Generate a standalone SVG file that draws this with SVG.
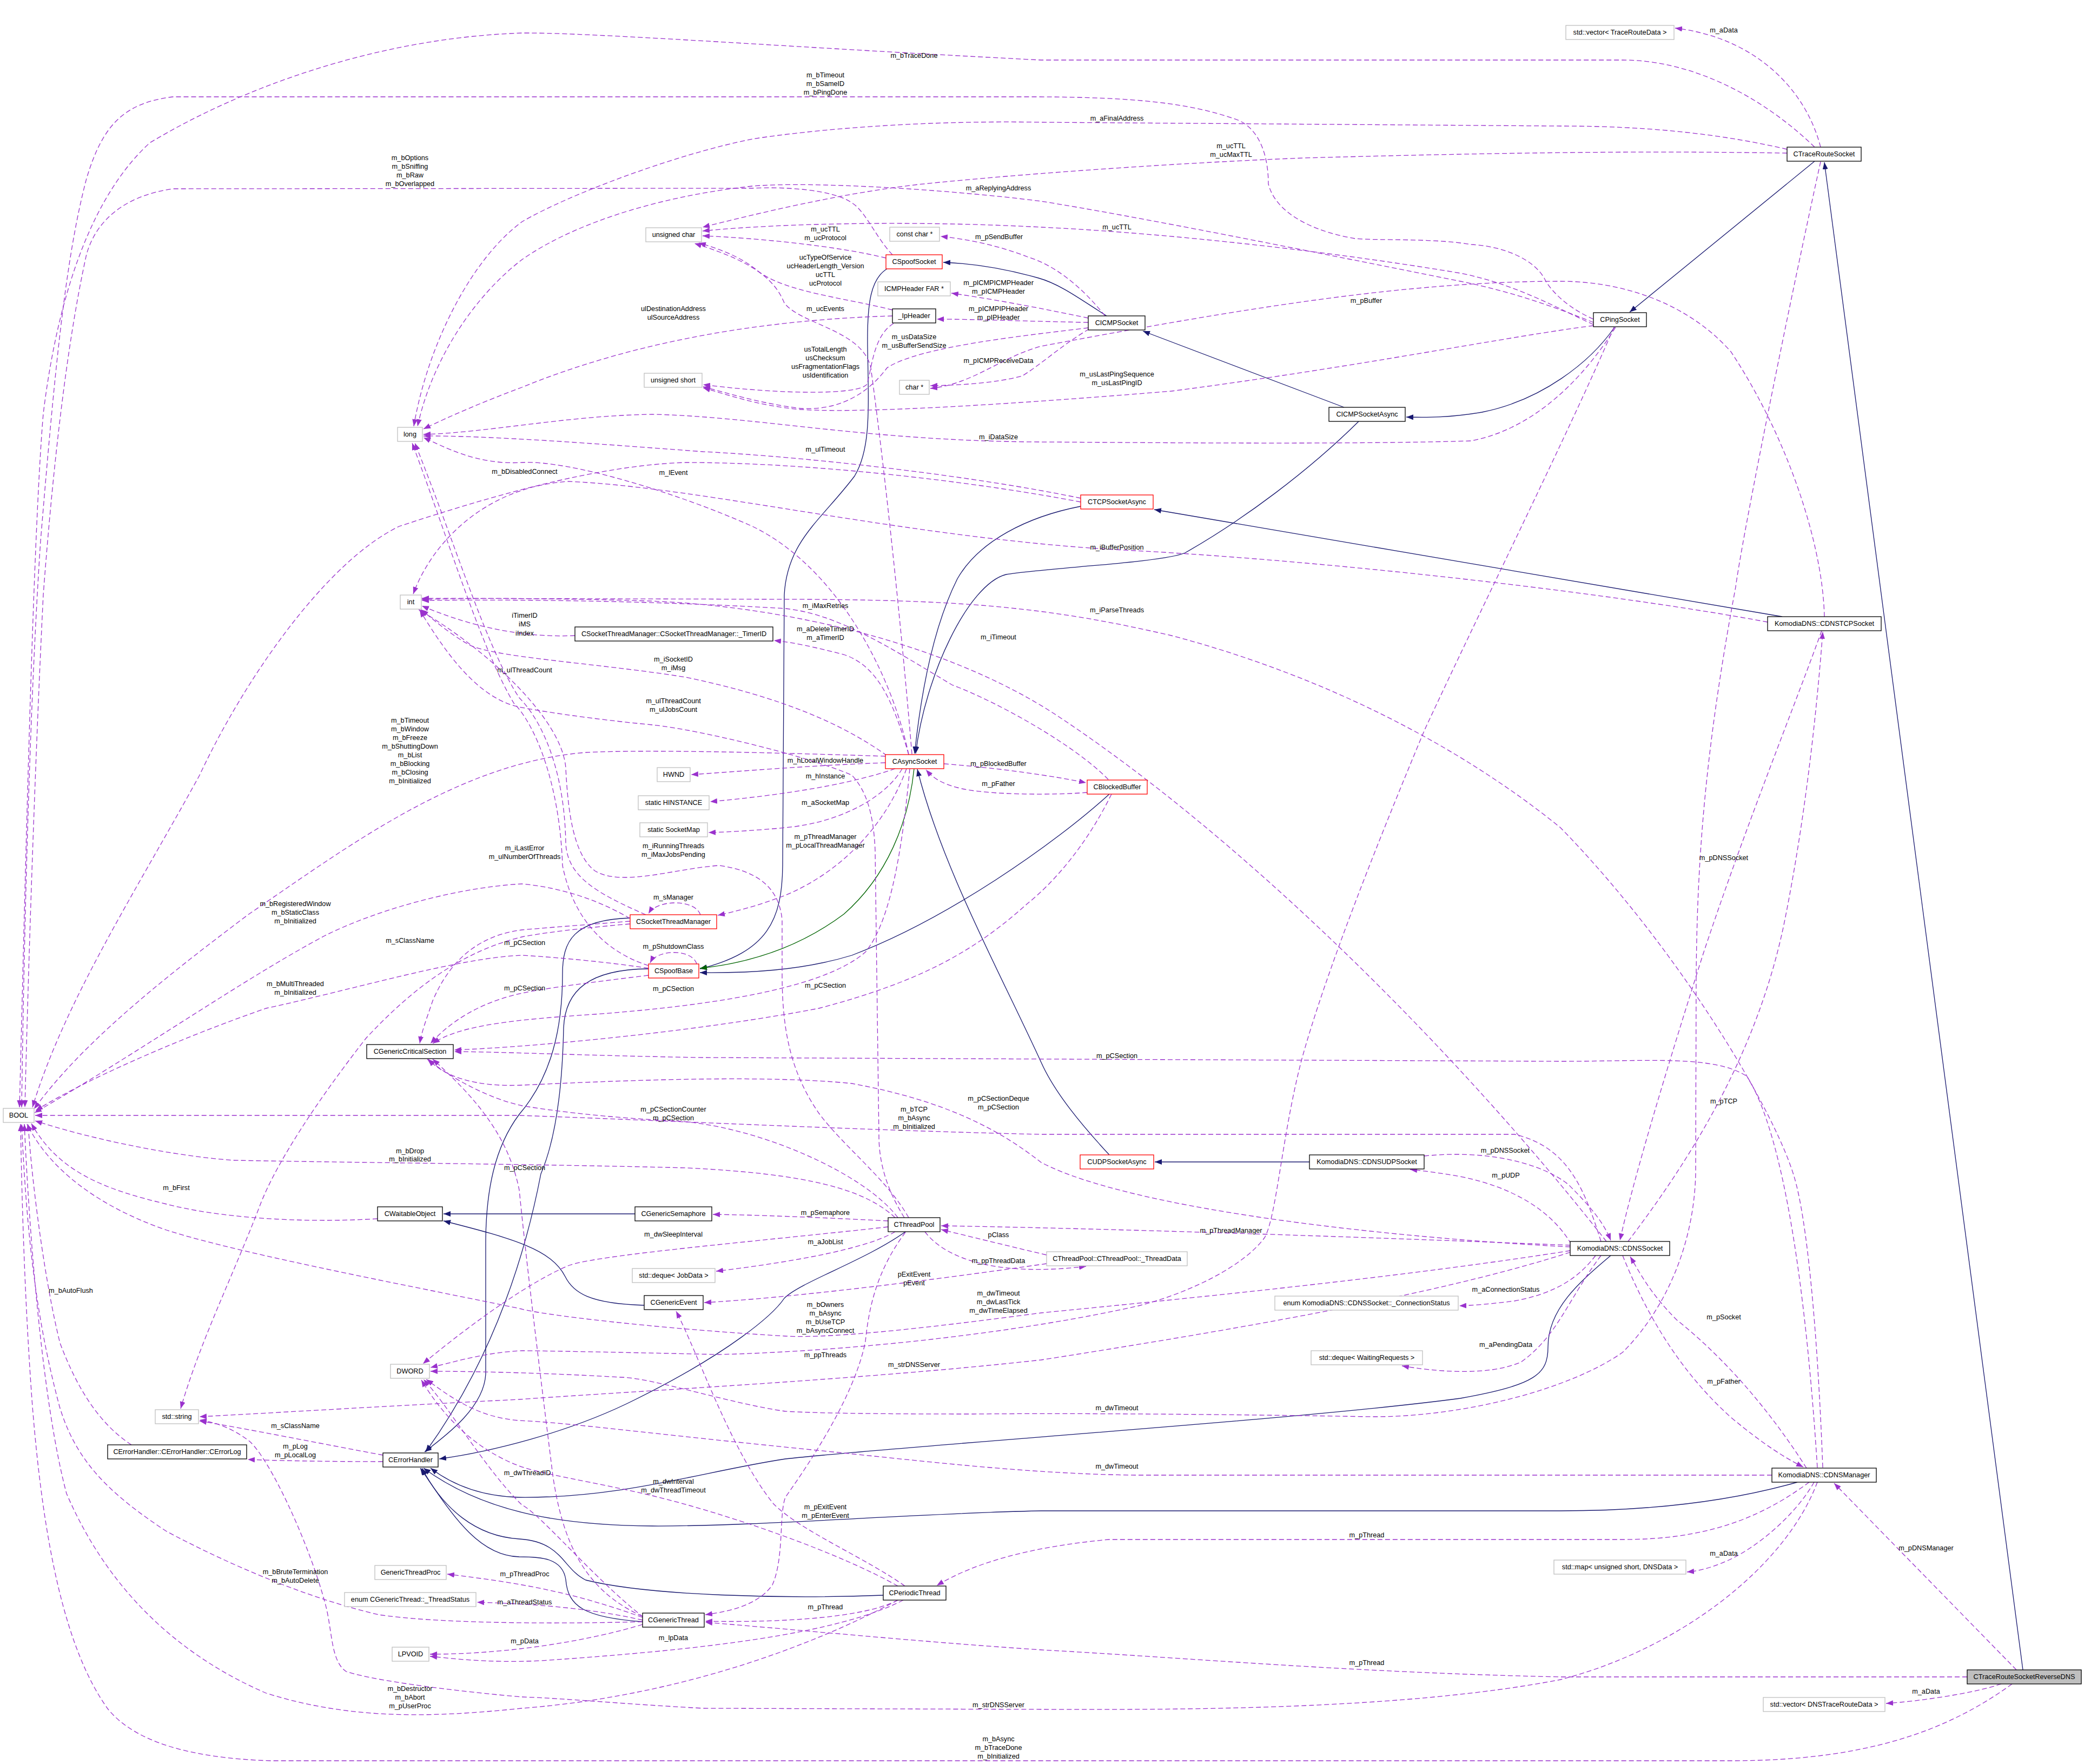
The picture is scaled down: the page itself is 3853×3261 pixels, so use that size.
<svg xmlns="http://www.w3.org/2000/svg" width="3853" height="3261" viewBox="0 0 3853 3261">
<defs>
<style>
text{font-family:"Liberation Sans",Arial,Helvetica,sans-serif;font-size:12.7px;text-anchor:middle;fill:#000}
.n rect{fill:#fff;stroke:#000;stroke-width:1.3}
.g rect{stroke:#bfbfbf}
.r rect{stroke:#ff0000}
.f rect{fill:#bfbfbf}
.e path{fill:none;stroke:#9a32cd;stroke-width:1.3;stroke-dasharray:9,5;marker-end:url(#ap)}
.i path{fill:none;stroke:#191970;stroke-width:1.3;marker-end:url(#an)}
.p path{fill:none;stroke:#006400;stroke-width:1.3;marker-end:url(#ag)}
</style>
<marker id="ap" markerUnits="userSpaceOnUse" markerWidth="14" markerHeight="10" refX="13" refY="5" orient="auto"><path d="M0,0 L13,5 L0,10 z" fill="#9a32cd"/></marker>
<marker id="an" markerUnits="userSpaceOnUse" markerWidth="14" markerHeight="10" refX="13" refY="5" orient="auto"><path d="M0,0 L13,5 L0,10 z" fill="#191970"/></marker>
<marker id="ag" markerUnits="userSpaceOnUse" markerWidth="14" markerHeight="10" refX="13" refY="5" orient="auto"><path d="M0,0 L13,5 L0,10 z" fill="#006400"/></marker>
</defs>
<rect width="3853" height="3261" fill="#fff"/>

<g id="connectors">
<g class="i">
<path d="M2046,584 C2000,555 1960,525 1920,514 C1860,497 1800,487 1744,485"/>
<path d="M2485,753 L2113,612"/>
<path d="M2985,605 C2940,670 2850,740 2740,762 C2680,772 2640,772 2600,771"/>
<path d="M3355,298 L3013,577"/>
<path d="M3740,3087 L3373,300"/>
<path d="M1640,497 C1610,515 1603,560 1604,640 C1606,760 1610,830 1580,880 C1520,960 1455,1000 1450,1100 L1447,1600 C1446,1700 1420,1760 1294,1791"/>
<path d="M2512,779 C2420,870 2300,960 2191,1022 C2150,1040 1930,1050 1860,1062 C1790,1080 1710,1250 1693,1393"/>
<path d="M1998,936 C1900,955 1810,1000 1770,1070 C1730,1150 1705,1260 1691,1393"/>
<path d="M2051,2135 C2000,2080 1950,2020 1925,1964 C1850,1800 1740,1600 1696,1422"/>
<path d="M3295,1140 L2134,942"/>
<path d="M2421,2148 L2135,2148"/>
<path d="M2051,1468 C1950,1560 1750,1700 1575,1766 C1480,1795 1380,1799 1294,1798"/>
<path d="M1165,1697 C1060,1700 1040,1740 1040,1800 C1040,1900 1020,1990 960,2060 C915,2120 898,2200 898,2300 L898,2540 C895,2600 830,2650 785,2684"/>
<path d="M1199,1791 C1090,1792 1045,1830 1042,1900 C1040,2000 1030,2100 1000,2170 C975,2300 920,2500 787,2684"/>
<path d="M1674,2277 C1600,2330 1480,2370 1450,2400 C1430,2430 1350,2500 1175,2587 C1050,2650 900,2685 812,2697"/>
<path d="M2978,2321 C2920,2370 2862,2420 2862,2490 C2862,2540 2840,2560 2700,2585 C2400,2625 1700,2670 1452,2697 C1300,2720 1150,2770 960,2768 C880,2766 830,2740 796,2714"/>
<path d="M3323,2740 C3200,2775 3050,2793 2885,2793 L1925,2793 C1700,2797 1400,2822 1206,2821 C1050,2820 900,2800 783,2714"/>
<path d="M1633,2949 C1450,2956 1200,2950 1083,2921 C1040,2900 1040,2850 960,2845 C880,2840 820,2790 780,2714"/>
<path d="M1188,2998 C1080,2990 1050,2970 1046,2920 C1040,2880 1000,2878 960,2878 C880,2876 830,2790 777,2714"/>
<path d="M1174,2244 L820,2244"/>
<path d="M1191,2413 C1090,2410 1060,2390 1045,2360 C1020,2310 950,2290 820,2257"/>
</g>
<g class="p">
<path d="M1690,1421 C1680,1520 1640,1620 1560,1690 C1480,1750 1390,1780 1294,1790"/>
</g>
<g class="e">
<path d="M3366,272 C3340,170 3250,70 3097,52"/>
<path d="M3355,272 C3260,180 3130,111 3000,111 L1925,111 C1500,90 1100,60 965,61 C700,70 450,160 277,264 C150,380 100,600 80,765 C60,1000 45,1700 36,2047"/>
<path d="M2946,590 C2900,570 2870,540 2858,520 C2840,480 2780,455 2720,452 C2650,440 2550,445 2505,441 C2440,430 2360,400 2345,340 C2345,290 2330,240 2289,222 C2200,190 2100,180 1920,179 L320,179 C230,190 190,230 160,330 C120,480 100,700 75,1000 C55,1300 45,1700 40,2047"/>
<path d="M3304,276 C3150,240 3000,233 2885,233 L1925,226 C1700,222 1500,240 1391,257 C1250,285 1050,360 965,410 C870,480 790,640 765,788"/>
<path d="M3304,283 C3100,280 2885,279 2412,292 C2200,300 1900,320 1698,341 C1550,358 1400,395 1299,420"/>
<path d="M1650,471 C1620,440 1600,390 1575,375 C1540,350 1450,345 1391,348 L320,349 C240,360 180,400 160,470 C120,650 95,900 80,1100 C65,1400 52,1800 46,2047"/>
<path d="M2946,596 C2880,570 2800,540 2700,520 C2400,460 2100,400 1925,372 C1750,350 1500,335 1391,344 C1200,365 1050,420 965,480 C880,545 800,660 772,788"/>
<path d="M2946,600 C2870,565 2800,525 2700,505 C2400,455 2100,428 1925,420 C1700,408 1450,412 1299,427"/>
<path d="M1638,477 C1550,455 1400,440 1299,436"/>
<path d="M2043,584 C2000,530 1950,490 1900,475 C1850,455 1790,442 1739,437"/>
<path d="M1650,573 C1560,550 1450,540 1400,500 C1370,475 1330,460 1292,449"/>
<path d="M2012,588 C1950,575 1850,555 1759,542"/>
<path d="M1650,584 C1450,590 1200,620 965,716 C900,740 830,770 783,793"/>
<path d="M1686,1394 C1670,1200 1640,900 1610,680 C1595,610 1480,600 1450,560 C1430,510 1380,480 1284,450"/>
<path d="M2012,596 C1900,594 1800,590 1732,590"/>
<path d="M2012,606 C1900,620 1700,640 1640,680 C1610,720 1560,760 1480,755 C1400,745 1340,725 1300,715"/>
<path d="M1652,598 C1615,620 1612,680 1603,710 C1590,730 1450,730 1300,711"/>
<path d="M2014,608 C1960,640 1930,670 1890,695 C1840,708 1780,712 1720,713"/>
<path d="M2946,602 C2800,620 2500,680 2166,723 C1900,745 1600,765 1480,757 C1400,750 1340,728 1300,717"/>
<path d="M3373,1140 C3370,1000 3300,800 3200,650 C3120,560 3000,520 2885,520 C2600,520 2300,570 1925,640 C1850,660 1800,710 1720,718"/>
<path d="M2987,605 C2940,680 2850,790 2720,815 C2500,822 2100,818 1920,817 C1600,815 1400,770 1206,766 C1050,768 900,800 783,803"/>
<path d="M1998,921 C1800,880 1500,845 1300,835 C1100,820 900,805 783,806"/>
<path d="M1680,1395 C1650,1250 1550,1050 1391,973 C1250,910 1050,850 965,855 C880,860 820,825 783,809"/>
<path d="M1998,928 C1800,890 1500,855 1268,855 C1100,860 900,920 738,973 C600,1040 450,1260 369,1433 C250,1650 120,1850 60,2047"/>
<path d="M3268,1150 C3000,1100 2500,1040 2100,1018 C1700,1000 1300,900 1050,890 C900,900 800,1000 764,1098"/>
<path d="M2049,1441 C1990,1380 1850,1300 1760,1266 C1650,1200 1550,1135 1452,1125 C1200,1110 950,1108 780,1110"/>
<path d="M1063,1175 C950,1180 850,1150 780,1120"/>
<path d="M1680,1395 C1650,1290 1620,1230 1560,1210 C1500,1195 1470,1188 1431,1184"/>
<path d="M2970,2295 C2700,1950 2300,1550 1950,1320 C1750,1190 1450,1120 1200,1111 C1000,1105 850,1106 780,1108"/>
<path d="M3370,2713 C3360,2450 3340,2250 3317,2175 C3280,2050 3100,1750 2885,1530 C2700,1380 2450,1250 2166,1175 C1950,1125 1800,1110 1500,1108 L780,1106"/>
<path d="M1640,1397 C1560,1340 1450,1290 1268,1252 C1100,1225 900,1215 862,1189 C830,1170 800,1145 779,1127"/>
<path d="M1194,1691 C1100,1650 1050,1620 1046,1560 C1044,1420 1000,1330 960,1290 C900,1200 840,1000 767,819"/>
<path d="M1199,1785 C1120,1760 1060,1700 1040,1600 C1035,1450 990,1340 950,1300 C890,1200 830,1000 762,819"/>
<path d="M1672,2251 C1640,2200 1625,2150 1625,2100 L1618,1572 C1615,1500 1600,1460 1575,1433 C1500,1400 1300,1350 1206,1340 C1100,1330 1000,1315 960,1307 C880,1290 820,1200 776,1128"/>
<path d="M1680,2251 C1640,2180 1560,2120 1514,2058 C1460,1980 1446,1900 1446,1800 L1446,1700 C1440,1640 1400,1610 1330,1600 C1250,1605 1150,1640 1100,1610 C1060,1580 1050,1500 1046,1420 C1040,1330 900,1200 774,1127"/>
<path d="M1637,1398 C1450,1392 1200,1385 1083,1391 C850,1410 650,1560 460,1690 C300,1810 150,1930 63,2050"/>
<path d="M1637,1410 C1500,1415 1380,1425 1278,1432"/>
<path d="M1745,1412 C1850,1420 1950,1435 2008,1447"/>
<path d="M1655,1421 C1600,1440 1500,1465 1313,1482"/>
<path d="M2010,1465 C1950,1470 1820,1470 1770,1456 C1740,1448 1725,1438 1712,1423"/>
<path d="M1668,1421 C1640,1470 1560,1520 1452,1530 C1400,1535 1350,1538 1310,1539"/>
<path d="M1676,1421 C1640,1520 1560,1610 1452,1655 C1400,1675 1360,1685 1327,1692"/>
<path d="M1295,1691 C1285,1662 1215,1662 1199,1689"/>
<path d="M1288,1782 C1280,1754 1215,1754 1202,1780"/>
<path d="M1165,1703 C1050,1712 1000,1716 965,1719 C880,1730 830,1780 800,1850 C790,1880 780,1905 776,1929"/>
<path d="M1165,1708 C1080,1715 1000,1725 965,1732 C850,1760 760,1830 677,1919 C590,2030 510,2150 480,2230 C430,2360 370,2480 334,2604"/>
<path d="M1199,1803 C1100,1815 1000,1828 965,1836 C900,1850 840,1880 796,1929"/>
<path d="M2055,1468 C2010,1560 1950,1630 1900,1670 C1800,1760 1700,1815 1514,1864 C1300,1905 1000,1935 840,1941"/>
<path d="M1682,1421 C1670,1550 1650,1700 1600,1760 C1520,1830 1300,1860 1100,1875 C950,1885 850,1895 800,1929"/>
<path d="M3360,2713 C3340,2400 3300,2100 3230,1990 C3170,1950 3050,1962 2885,1962 L1300,1955 C1100,1952 950,1945 840,1944"/>
<path d="M1660,2251 C1600,2170 1400,2080 1245,2072 C1100,2065 1000,2050 965,2044 C900,2030 830,1990 790,1958"/>
<path d="M2903,2305 C2600,2290 2100,2240 1925,2149 C1850,2090 1750,2035 1575,2003 C1400,1985 1100,2000 965,2006 C880,2010 820,1990 792,1958"/>
<path d="M1655,2251 C1600,2200 1500,2170 1268,2159 C1000,2152 700,2150 431,2145 C300,2135 150,2100 65,2072"/>
<path d="M2960,2295 C2930,2200 2900,2120 2800,2097 L1925,2097 C1600,2090 1200,2070 960,2062 L65,2062"/>
<path d="M1165,1698 C1100,1660 1030,1640 965,1634 C850,1640 700,1680 600,1730 C450,1810 250,1950 64,2057"/>
<path d="M1199,1790 C1100,1775 1000,1768 965,1766 C850,1770 650,1830 492,1864 C330,1920 150,2000 66,2053"/>
<path d="M2633,2137 C2750,2125 2850,2150 2900,2190 C2940,2230 2965,2260 2978,2293"/>
<path d="M2905,2300 C2870,2240 2800,2195 2700,2175 C2660,2168 2630,2164 2607,2162"/>
<path d="M3368,1166 C3320,1300 3230,1520 3150,1760 C3080,1980 3020,2180 2995,2293"/>
<path d="M3010,2295 C3120,2150 3250,1950 3300,1700 C3340,1500 3360,1300 3370,1168"/>
<path d="M2903,2302 C2600,2290 2100,2272 1740,2266"/>
<path d="M1935,2320 C1850,2300 1790,2285 1740,2273"/>
<path d="M1710,2277 C1750,2330 1850,2360 2008,2341"/>
<path d="M1642,2257 C1500,2250 1400,2246 1318,2245"/>
<path d="M1642,2268 C1400,2295 1100,2320 1050,2340 C980,2370 880,2440 782,2521"/>
<path d="M1655,2277 C1600,2310 1450,2335 1324,2350"/>
<path d="M1935,2336 C1700,2370 1450,2400 1302,2408"/>
<path d="M2984,605 C2900,800 2750,1100 2634,1349 C2550,1550 2450,1800 2406,1961 C2370,2100 2360,2250 2338,2288 C2300,2340 2200,2390 2105,2414 C1900,2460 1600,2497 1329,2504 C1150,2500 1000,2497 965,2497 C900,2500 850,2515 796,2528"/>
<path d="M2903,2312 C2600,2360 2200,2400 1925,2427 C1750,2450 1550,2475 1452,2470 C1200,2455 1000,2430 965,2420 C800,2385 450,2320 308,2274 C180,2230 90,2160 50,2078"/>
<path d="M1674,2278 C1620,2350 1606,2420 1600,2480 C1580,2580 1500,2700 1452,2768 C1440,2800 1450,2880 1428,2930 C1400,2970 1340,2980 1304,2985"/>
<path d="M2903,2315 C2700,2380 2400,2440 1925,2514 C1600,2550 1200,2570 960,2587 C700,2600 450,2615 369,2619"/>
<path d="M2950,2321 C2920,2360 2880,2390 2800,2405 C2760,2410 2730,2413 2698,2414"/>
<path d="M2960,2321 C2900,2400 2880,2470 2812,2518 C2750,2545 2650,2535 2592,2525"/>
<path d="M3366,299 C3300,600 3220,1000 3209,1085 C3150,1400 3138,1600 3136,1800 L3135,2170 C3132,2300 3080,2420 3000,2500 C2900,2570 2700,2620 2536,2619 C2300,2615 2000,2612 1800,2614 C1600,2614 1500,2612 1452,2609 C1350,2595 1200,2545 1145,2546 C1050,2540 900,2535 796,2535"/>
<path d="M3276,2727 L2100,2727 C1900,2725 1700,2700 1500,2680 C1200,2650 1050,2630 960,2626 C880,2620 830,2580 788,2550"/>
<path d="M708,2690 C600,2670 450,2640 369,2627"/>
<path d="M708,2702 C600,2702 500,2700 458,2698"/>
<path d="M1190,2990 C1100,2920 1000,2800 965,2782 C900,2720 830,2600 783,2550"/>
<path d="M1660,2932 C1550,2870 1350,2800 1206,2765 C1100,2740 1000,2725 960,2710 C880,2680 820,2620 779,2551"/>
<path d="M1673,2932 C1600,2880 1480,2830 1430,2780 C1350,2680 1290,2500 1250,2424"/>
<path d="M1188,2990 C1050,2940 950,2925 827,2910"/>
<path d="M1188,2995 C1100,2975 1000,2965 882,2962"/>
<path d="M1660,2958 C1600,2990 1450,3000 1304,2997"/>
<path d="M1188,3003 C1100,3030 950,3058 795,3058"/>
<path d="M1670,2958 C1550,3020 1300,3050 1000,3070 C900,3075 830,3065 795,3062"/>
<path d="M1188,2998 C1000,3003 800,3000 700,2985 C550,2950 400,2880 308,2831 C200,2760 140,2700 110,2600 C70,2450 50,2300 40,2078"/>
<path d="M1660,2958 C1450,3070 1200,3140 965,3158 C800,3175 650,3180 492,3130 C330,3060 200,2940 123,2761 C80,2600 55,2300 45,2078"/>
<path d="M243,2671 C180,2630 140,2560 111,2483 C85,2380 60,2200 52,2078"/>
<path d="M698,2253 C550,2262 400,2250 308,2226 C200,2200 110,2170 58,2077"/>
<path d="M1188,2988 C1080,2940 1040,2850 1022,2727 C1000,2550 975,2350 960,2200 C940,2100 880,2030 800,1958"/>
<path d="M3345,2740 C3250,2810 3150,2846 3000,2846 L2050,2846 C1900,2860 1800,2890 1732,2931"/>
<path d="M3354,2740 C3320,2800 3250,2860 3194,2885 C3160,2900 3140,2904 3119,2906"/>
<path d="M3340,2714 C3280,2620 3200,2520 3100,2440 C3050,2390 3030,2350 3014,2323"/>
<path d="M3000,2321 C3040,2420 3100,2530 3200,2620 C3260,2670 3300,2695 3334,2712"/>
<path d="M3360,2740 C3300,2900 3100,3050 2885,3105 C2600,3160 2200,3161 1925,3160 L1300,3158 C1150,3150 1050,3140 965,3137 C880,3130 700,3110 640,3090 C610,3070 615,3010 600,2960 C570,2850 500,2700 462,2665 C430,2640 400,2630 369,2625"/>
<path d="M3637,3100 L2885,3100 C2500,3092 2200,3065 1925,3050 C1700,3035 1500,3015 1304,2999"/>
<path d="M3720,3113 C3600,3200 3450,3255 3200,3255 L500,3255 C350,3250 250,3220 200,3160 C120,3050 80,2850 60,2600 C45,2400 40,2200 38,2078"/>
<path d="M3700,3113 C3650,3130 3550,3145 3487,3149"/>
<path d="M3728,3087 L3391,2742"/>
</g>
</g>

<g id="labels">
<text x="3187" y="60">m_aData</text>
<text x="1690" y="107">m_bTraceDone</text>
<text x="1526" y="143">m_bTimeout</text><text x="1526" y="159">m_bSameID</text><text x="1526" y="175">m_bPingDone</text>
<text x="2065" y="223">m_aFinalAddress</text>
<text x="2276" y="274">m_ucTTL</text><text x="2276" y="290">m_ucMaxTTL</text>
<text x="758" y="296">m_bOptions</text><text x="758" y="312">m_bSniffing</text><text x="758" y="328">m_bRaw</text><text x="758" y="344">m_bOverlapped</text>
<text x="1846" y="352">m_aReplyingAddress</text>
<text x="2065" y="424">m_ucTTL</text>
<text x="1526" y="428">m_ucTTL</text><text x="1526" y="444">m_ucProtocol</text>
<text x="1847" y="442">m_pSendBuffer</text>
<text x="1526" y="480">ucTypeOfService</text><text x="1526" y="496">ucHeaderLength_Version</text><text x="1526" y="512">ucTTL</text><text x="1526" y="528">ucProtocol</text>
<text x="1846" y="527">m_pICMPICMPHeader</text><text x="1846" y="543">m_pICMPHeader</text>
<text x="2526" y="560">m_pBuffer</text>
<text x="1245" y="575">ulDestinationAddress</text><text x="1245" y="591">ulSourceAddress</text>
<text x="1526" y="575">m_ucEvents</text>
<text x="1846" y="575">m_pICMPIPHeader</text><text x="1846" y="591">m_pIPHeader</text>
<text x="1690" y="627">m_usDataSize</text><text x="1690" y="643">m_usBufferSendSize</text>
<text x="1526" y="650">usTotalLength</text><text x="1526" y="666">usChecksum</text><text x="1526" y="682">usFragmentationFlags</text><text x="1526" y="698">usIdentification</text>
<text x="1846" y="671">m_pICMPReceiveData</text>
<text x="2065" y="696">m_usLastPingSequence</text><text x="2065" y="712">m_usLastPingID</text>
<text x="1846" y="812">m_iDataSize</text>
<text x="1526" y="835">m_ulTimeout</text>
<text x="1245" y="878">m_lEvent</text>
<text x="970" y="876">m_bDisabledConnect</text>
<text x="2065" y="1016">m_iBufferPosition</text>
<text x="1526" y="1124">m_iMaxRetries</text>
<text x="2065" y="1132">m_iParseThreads</text>
<text x="970" y="1142">iTimerID</text><text x="970" y="1158">iMS</text><text x="970" y="1175">iIndex</text>
<text x="1526" y="1167">m_aDeleteTimerID</text><text x="1526" y="1183">m_aTimerID</text>
<text x="1846" y="1182">m_iTimeout</text>
<text x="1245" y="1223">m_iSocketID</text><text x="1245" y="1239">m_iMsg</text>
<text x="970" y="1243">m_ulThreadCount</text>
<text x="1245" y="1300">m_ulThreadCount</text><text x="1245" y="1316">m_ulJobsCount</text>
<text x="758" y="1336">m_bTimeout</text><text x="758" y="1352">m_bWindow</text><text x="758" y="1368">m_bFreeze</text><text x="758" y="1384">m_bShuttingDown</text><text x="758" y="1400">m_bList</text><text x="758" y="1416">m_bBlocking</text><text x="758" y="1432">m_bClosing</text><text x="758" y="1448">m_bInitialized</text>
<text x="1526" y="1410">m_hLocalWindowHandle</text>
<text x="1846" y="1416">m_pBlockedBuffer</text>
<text x="1526" y="1439">m_hInstance</text>
<text x="1846" y="1453">m_pFather</text>
<text x="1526" y="1488">m_aSocketMap</text>
<text x="1526" y="1551">m_pThreadManager</text><text x="1526" y="1567">m_pLocalThreadManager</text>
<text x="1245" y="1568">m_iRunningThreads</text><text x="1245" y="1584">m_iMaxJobsPending</text>
<text x="970" y="1572">m_iLastError</text><text x="970" y="1588">m_ulNumberOfThreads</text>
<text x="3187" y="1590">m_pDNSSocket</text>
<text x="1245" y="1663">m_sManager</text>
<text x="546" y="1675">m_bRegisteredWindow</text><text x="546" y="1691">m_bStaticClass</text><text x="546" y="1707">m_bInitialized</text>
<text x="758" y="1743">m_sClassName</text>
<text x="970" y="1747">m_pCSection</text>
<text x="1245" y="1754">m_pShutdownClass</text>
<text x="546" y="1823">m_bMultiThreaded</text><text x="546" y="1839">m_bInitialized</text>
<text x="970" y="1831">m_pCSection</text>
<text x="1245" y="1832">m_pCSection</text>
<text x="1526" y="1826">m_pCSection</text>
<text x="2065" y="1956">m_pCSection</text>
<text x="1846" y="2035">m_pCSectionDeque</text><text x="1846" y="2051">m_pCSection</text>
<text x="3187" y="2040">m_pTCP</text>
<text x="1245" y="2055">m_pCSectionCounter</text><text x="1245" y="2071">m_pCSection</text>
<text x="1690" y="2055">m_bTCP</text><text x="1690" y="2071">m_bAsync</text><text x="1690" y="2087">m_bInitialized</text>
<text x="2783" y="2131">m_pDNSSocket</text>
<text x="758" y="2132">m_bDrop</text><text x="758" y="2147">m_bInitialized</text>
<text x="970" y="2163">m_pCSection</text>
<text x="2784" y="2177">m_pUDP</text>
<text x="326" y="2200">m_bFirst</text>
<text x="1526" y="2246">m_pSemaphore</text>
<text x="2276" y="2279">m_pThreadManager</text>
<text x="1245" y="2286">m_dwSleepInterval</text>
<text x="1846" y="2287">pClass</text>
<text x="1526" y="2300">m_aJobList</text>
<text x="1846" y="2335">m_ppThreadData</text>
<text x="1690" y="2360">pExitEvent</text><text x="1690" y="2376">pEvent</text>
<text x="2784" y="2388">m_aConnectionStatus</text>
<text x="131" y="2390">m_bAutoFlush</text>
<text x="1846" y="2395">m_dwTimeout</text><text x="1846" y="2411">m_dwLastTick</text><text x="1846" y="2427">m_dwTimeElapsed</text>
<text x="1526" y="2416">m_bOwners</text><text x="1526" y="2432">m_bAsync</text><text x="1526" y="2448">m_bUseTCP</text><text x="1526" y="2464">m_bAsyncConnect</text>
<text x="3187" y="2439">m_pSocket</text>
<text x="2784" y="2490">m_aPendingData</text>
<text x="1526" y="2509">m_ppThreads</text>
<text x="1690" y="2527">m_strDNSServer</text>
<text x="3187" y="2558">m_pFather</text>
<text x="2065" y="2607">m_dwTimeout</text>
<text x="546" y="2640">m_sClassName</text>
<text x="546" y="2678">m_pLog</text><text x="546" y="2694">m_pLocalLog</text>
<text x="2065" y="2715">m_dwTimeout</text>
<text x="975" y="2727">m_dwThreadID</text>
<text x="1245" y="2743">m_dwInterval</text><text x="1245" y="2759">m_dwThreadTimeout</text>
<text x="1526" y="2790">m_pExitEvent</text><text x="1526" y="2806">m_pEnterEvent</text>
<text x="2527" y="2842">m_pThread</text>
<text x="3561" y="2866">m_pDNSManager</text>
<text x="3187" y="2876">m_aData</text>
<text x="546" y="2910">m_bBruteTermination</text><text x="546" y="2926">m_bAutoDelete</text>
<text x="970" y="2914">m_pThreadProc</text>
<text x="970" y="2966">m_aThreadStatus</text>
<text x="1526" y="2975">m_pThread</text>
<text x="1245" y="3032">m_lpData</text>
<text x="970" y="3038">m_pData</text>
<text x="2527" y="3078">m_pThread</text>
<text x="758" y="3126">m_bDestructor</text><text x="758" y="3142">m_bAbort</text><text x="758" y="3158">m_pUserProc</text>
<text x="3561" y="3131">m_aData</text>
<text x="1846" y="3156">m_strDNSServer</text>
<text x="1846" y="3219">m_bAsync</text><text x="1846" y="3235">m_bTraceDone</text><text x="1846" y="3251">m_bInitialized</text>
</g>

<g id="n_long" class="n g"><rect x="735" y="790" width="46" height="26"/><text x="758" y="807">long</text></g>
<g id="n_uchar" class="n g"><rect x="1194" y="421" width="103" height="26"/><text x="1245.5" y="438">unsigned char</text></g>
<g id="n_cchar" class="n g"><rect x="1645" y="420" width="92" height="26"/><text x="1691" y="437">const char *</text></g>
<g id="n_spoofsocket" class="n r"><rect x="1638" y="471" width="104" height="26"/><text x="1690" y="488">CSpoofSocket</text></g>
<g id="n_icmphdr" class="n g"><rect x="1623" y="521" width="134" height="26"/><text x="1690" y="538">ICMPHeader FAR *</text></g>
<g id="n_iphdr" class="n"><rect x="1650" y="571" width="80" height="26"/><text x="1690" y="588">_IpHeader</text></g>
<g id="n_ushort" class="n g"><rect x="1191" y="690" width="107" height="26"/><text x="1244.5" y="707">unsigned short</text></g>
<g id="n_charp" class="n g"><rect x="1663" y="703" width="55" height="26"/><text x="1690.5" y="720">char *</text></g>
<g id="n_icmpsocket" class="n"><rect x="2012" y="584" width="105" height="26"/><text x="2064.5" y="601">CICMPSocket</text></g>
<g id="n_icmpasync" class="n"><rect x="2457" y="753" width="141" height="26"/><text x="2527.5" y="770">CICMPSocketAsync</text></g>
<g id="n_tcpasync" class="n r"><rect x="1998" y="915" width="134" height="26"/><text x="2065" y="932">CTCPSocketAsync</text></g>
<g id="n_vectr" class="n g"><rect x="2895" y="47" width="200" height="26"/><text x="2995" y="64">std::vector&lt; TraceRouteData &gt;</text></g>
<g id="n_tracesocket" class="n"><rect x="3304" y="272" width="137" height="26"/><text x="3372.5" y="289">CTraceRouteSocket</text></g>
<g id="n_pingsocket" class="n"><rect x="2946" y="578" width="98" height="26"/><text x="2995" y="595">CPingSocket</text></g>
<g id="n_int" class="n g"><rect x="740" y="1100" width="39" height="26"/><text x="759.5" y="1117">int</text></g>
<g id="n_bool" class="n g"><rect x="6" y="2049" width="57" height="26"/><text x="34.5" y="2066">BOOL</text></g>
<g id="n_gcs" class="n"><rect x="678" y="1931" width="160" height="26"/><text x="758" y="1948">CGenericCriticalSection</text></g>
<g id="n_timerid" class="n"><rect x="1063" y="1159" width="366" height="26"/><text x="1246" y="1176">CSocketThreadManager::CSocketThreadManager::_TimerID</text></g>
<g id="n_asyncsocket" class="n r"><rect x="1637" y="1395" width="108" height="26"/><text x="1691" y="1412">CAsyncSocket</text></g>
<g id="n_hwnd" class="n g"><rect x="1215" y="1419" width="61" height="26"/><text x="1245.5" y="1436">HWND</text></g>
<g id="n_hinstance" class="n g"><rect x="1180" y="1471" width="131" height="26"/><text x="1245.5" y="1488">static HINSTANCE</text></g>
<g id="n_socketmap" class="n g"><rect x="1183" y="1521" width="125" height="26"/><text x="1245.5" y="1538">static SocketMap</text></g>
<g id="n_stm" class="n r"><rect x="1165" y="1691" width="160" height="26"/><text x="1245" y="1708">CSocketThreadManager</text></g>
<g id="n_spoofbase" class="n r"><rect x="1199" y="1782" width="93" height="26"/><text x="1245.5" y="1799">CSpoofBase</text></g>
<g id="n_blocked" class="n r"><rect x="2010" y="1442" width="111" height="26"/><text x="2065.5" y="1459">CBlockedBuffer</text></g>
<g id="n_udpasync" class="n r"><rect x="1997" y="2135" width="136" height="26"/><text x="2065" y="2152">CUDPSocketAsync</text></g>
<g id="n_dnsudp" class="n"><rect x="2421" y="2135" width="212" height="26"/><text x="2527" y="2152">KomodiaDNS::CDNSUDPSocket</text></g>
<g id="n_dnstcp" class="n"><rect x="3268" y="1140" width="210" height="26"/><text x="3373" y="1157">KomodiaDNS::CDNSTCPSocket</text></g>
<g id="n_waitable" class="n"><rect x="698" y="2231" width="120" height="26"/><text x="758" y="2248">CWaitableObject</text></g>
<g id="n_dword" class="n g"><rect x="722" y="2522" width="72" height="26"/><text x="758" y="2539">DWORD</text></g>
<g id="n_string" class="n g"><rect x="287" y="2606" width="80" height="26"/><text x="327" y="2623">std::string</text></g>
<g id="n_errorlog" class="n"><rect x="199" y="2671" width="257" height="26"/><text x="327.5" y="2688">CErrorHandler::CErrorHandler::CErrorLog</text></g>
<g id="n_errorhandler" class="n"><rect x="708" y="2686" width="102" height="26"/><text x="759" y="2703">CErrorHandler</text></g>
<g id="n_gtproc" class="n g"><rect x="693" y="2894" width="132" height="26"/><text x="759" y="2911">GenericThreadProc</text></g>
<g id="n_tstatus" class="n g"><rect x="637" y="2944" width="243" height="26"/><text x="758.5" y="2961">enum CGenericThread::_ThreadStatus</text></g>
<g id="n_lpvoid" class="n g"><rect x="725" y="3045" width="68" height="26"/><text x="759" y="3062">LPVOID</text></g>
<g id="n_semaphore" class="n"><rect x="1174" y="2231" width="142" height="26"/><text x="1245" y="2248">CGenericSemaphore</text></g>
<g id="n_threadpool" class="n"><rect x="1642" y="2251" width="96" height="26"/><text x="1690" y="2268">CThreadPool</text></g>
<g id="n_dqjob" class="n g"><rect x="1169" y="2345" width="153" height="26"/><text x="1245.5" y="2362">std::deque&lt; JobData &gt;</text></g>
<g id="n_gevent" class="n"><rect x="1191" y="2395" width="109" height="26"/><text x="1245.5" y="2412">CGenericEvent</text></g>
<g id="n_periodic" class="n"><rect x="1633" y="2932" width="116" height="26"/><text x="1691" y="2949">CPeriodicThread</text></g>
<g id="n_gthread" class="n"><rect x="1188" y="2982" width="114" height="26"/><text x="1245" y="2999">CGenericThread</text></g>
<g id="n_tdata" class="n g"><rect x="1935" y="2314" width="260" height="26"/><text x="2065" y="2331">CThreadPool::CThreadPool::_ThreadData</text></g>
<g id="n_connstatus" class="n g"><rect x="2357" y="2396" width="339" height="26"/><text x="2526.5" y="2413">enum KomodiaDNS::CDNSSocket::_ConnectionStatus</text></g>
<g id="n_dqwait" class="n g"><rect x="2424" y="2497" width="206" height="26"/><text x="2527" y="2514">std::deque&lt; WaitingRequests &gt;</text></g>
<g id="n_dnssocket" class="n"><rect x="2903" y="2295" width="184" height="26"/><text x="2995" y="2312">KomodiaDNS::CDNSSocket</text></g>
<g id="n_dnsmanager" class="n"><rect x="3276" y="2714" width="193" height="26"/><text x="3372.5" y="2731">KomodiaDNS::CDNSManager</text></g>
<g id="n_map" class="n g"><rect x="2873" y="2884" width="244" height="26"/><text x="2995" y="2901">std::map&lt; unsigned short, DNSData &gt;</text></g>
<g id="n_trrdns" class="n f"><rect x="3637" y="3087" width="211" height="26"/><text x="3742.5" y="3104">CTraceRouteSocketReverseDNS</text></g>
<g id="n_vecdns" class="n g"><rect x="3260" y="3138" width="225" height="26"/><text x="3372.5" y="3155">std::vector&lt; DNSTraceRouteData &gt;</text></g>
</svg>
